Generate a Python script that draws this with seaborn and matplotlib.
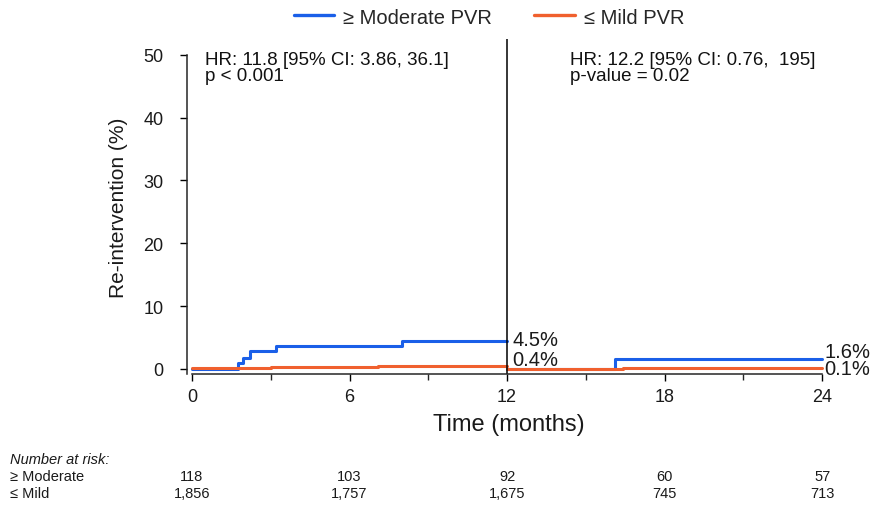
import numpy as np
import pandas as pd
import matplotlib
matplotlib.use("Agg")
import matplotlib.pyplot as plt
import matplotlib.transforms as mtransforms
from matplotlib.lines import Line2D
import seaborn as sns

sns.set_theme(style="ticks")
plt.rcParams['font.family'] = ['Liberation Sans', 'DejaVu Sans']

# ---- data ----
groups = ["\u2265 Moderate PVR", "\u2264 Mild PVR"]
risk_labels = ["\u2265 Moderate", "\u2264 Mild"]
# first period (0-12 months)
blue1_t = [0, 1.75, 1.95, 2.2, 3.2, 8.0, 12]
blue1_y = [0, 0.9, 1.7, 2.8, 3.6, 4.5, 4.5]
red1_t = [0, 0.3, 3.0, 7.1, 12]
red1_y = [0.1, 0.2, 0.3, 0.4, 0.4]
# landmark period (12-24 months)
blue2_t = [12, 16.1, 24]
blue2_y = [0, 1.6, 1.6]
red2_t = [12, 16.4, 24]
red2_y = [0, 0.1, 0.1]
end_labels_1 = ["4.5%", "0.4%"]
end_labels_2 = ["1.6%", "0.1%"]
hr_text_1 = "HR: 11.8 [95% CI: 3.86, 36.1]\np < 0.001"
hr_text_2 = "HR: 12.2 [95% CI: 0.76,  195]\np-value = 0.02"
risk_times = [0, 6, 12, 18, 24]
risk_moderate = ["118", "103", "92", "60", "57"]
risk_mild = ["1,856", "1,757", "1,675", "745", "713"]
x_ticks = [0, 6, 12, 18, 24]
y_ticks = [0, 10, 20, 30, 40, 50]

BLUE = "#1a5fe8"
RED = "#f0602e"
TXT = "#1a1a1a"

fig = plt.figure(figsize=(8.77, 5.06), dpi=100)
ax = fig.add_axes([187/877, 1-375/506, 643/877, 335/506])

lw = 2.2
for t, y, c in [(blue1_t, blue1_y, BLUE), (red1_t, red1_y, RED),
                (blue2_t, blue2_y, BLUE), (red2_t, red2_y, RED)]:
    df = pd.DataFrame({"t": t, "y": y})
    sns.lineplot(data=df, x="t", y="y", drawstyle="steps-post", color=c,
                 linewidth=lw, ax=ax, legend=False, estimator=None)

ax.set_xlim(-0.19, 24.3)
ax.set_ylim(-0.8, 52.5)
ax.axvline(12, color="black", linewidth=1.1)

ax.set_xticks(x_ticks)
ax.set_xticks(np.arange(0, 25, 3), minor=True)
ax.set_yticks(y_ticks)
ax.tick_params(axis="both", which="major", labelsize=13, length=5, width=1, colors="black")
ax.tick_params(axis="x", which="minor", length=4, width=1)
ax.tick_params(axis="y", pad=12)
ax.tick_params(axis="x", pad=5)
for lab in ax.get_xticklabels() + ax.get_yticklabels():
    lab.set_color(TXT)
sns.despine(ax=ax)
ax.spines["left"].set_bounds(-0.8, 50)
ax.spines["bottom"].set_bounds(0, 24)
ax.spines["left"].set_linewidth(1.1)
ax.spines["bottom"].set_linewidth(1.1)

ax.set_xlabel("Time (months)", fontsize=17, labelpad=6, color=TXT)
ax.set_ylabel("Re-intervention (%)", fontsize=15, labelpad=11, color=TXT)

# end labels
fs_end = 14.5
ax.text(12.2, 4.7, end_labels_1[0], fontsize=fs_end, va="center", ha="left", color=TXT)
ax.text(12.2, 1.5, end_labels_1[1], fontsize=fs_end, va="center", ha="left", color=TXT)
ax.text(24.1, 2.8, end_labels_2[0], fontsize=fs_end, va="center", ha="left", color=TXT)
ax.text(24.1, 0.0, end_labels_2[1], fontsize=fs_end, va="center", ha="left", color=TXT)

# HR annotations
ax.text(0.5, 50.6, hr_text_1, fontsize=13.5, va="top", ha="left", linespacing=0.95, color="#111111")
ax.text(14.4, 50.6, hr_text_2, fontsize=13.5, va="top", ha="left", linespacing=0.95, color="#111111")

# legend
handles = [Line2D([], [], color=BLUE, linewidth=2.4), Line2D([], [], color=RED, linewidth=2.4)]
fig.legend(handles, groups, loc="center", bbox_to_anchor=(489/877, 1-18/506), ncol=2,
           frameon=False, fontsize=14.5, handlelength=2.0, columnspacing=2.1,
           handletextpad=0.45)

# number at risk table
fs_r = 10.5
trans = mtransforms.blended_transform_factory(ax.transData, fig.transFigure)
fig.text(10/877, 1-460/506, "Number at risk:", fontsize=fs_r, style="italic", va="center", ha="left", color=TXT)
fig.text(10/877, 1-477.5/506, risk_labels[0], fontsize=fs_r, va="center", ha="left", color=TXT)
fig.text(10/877, 1-494.5/506, risk_labels[1], fontsize=fs_r, va="center", ha="left", color=TXT)
for t, m, r in zip(risk_times, risk_moderate, risk_mild):
    fig.text(t, 1-477.5/506, m, transform=trans, fontsize=fs_r, va="center", ha="center", color=TXT)
    fig.text(t, 1-494.5/506, r, transform=trans, fontsize=fs_r, va="center", ha="center", color=TXT)

fig.savefig("out.png", dpi=100)
